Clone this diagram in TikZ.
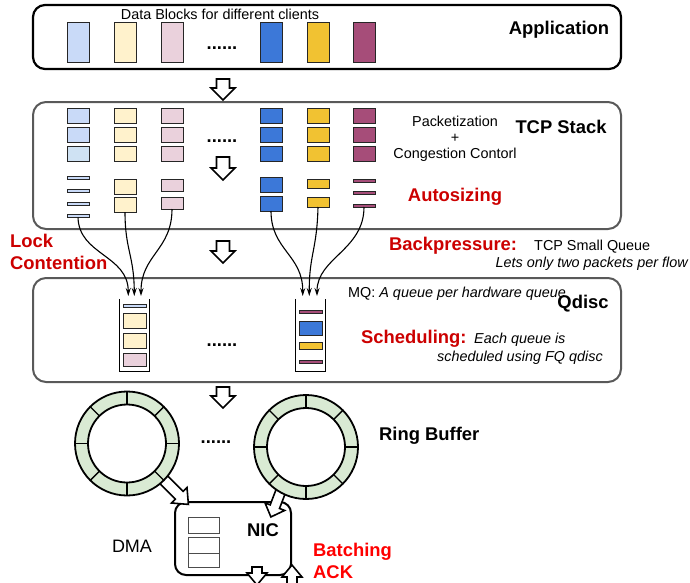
\documentclass[tikz,border=0pt]{standalone}
\usepackage{fontspec}
\setmainfont{Liberation Sans}
\usetikzlibrary{fit,arrows.meta}
\definecolor{lblue}{HTML}{C9DAF8}
\definecolor{lbluetwo}{HTML}{CFE2F3}
\definecolor{lyel}{HTML}{FFF2CC}
\definecolor{lpink}{HTML}{EAD1DC}
\definecolor{dblue}{HTML}{3C78D8}
\definecolor{dyel}{HTML}{F1C232}
\definecolor{dpurp}{HTML}{A64D79}
\definecolor{ringg}{HTML}{D9EAD3}
\definecolor{boxgray}{HTML}{595959}
\definecolor{lblred}{HTML}{CC0000}
\definecolor{lbrred}{HTML}{FF0000}
\tikzset{
 blk/.style={draw=black!85, line width=0.8pt, inner sep=0pt, outer sep=0pt},
 layer/.style={rounded corners=13pt, line width=2pt, draw=boxgray, inner sep=0pt},
 small/.style={font=\fontsize{14.4}{16}\selectfont, inner sep=0pt},
 smallit/.style={font=\fontsize{14.4}{16}\selectfont\itshape, inner sep=0pt},
 big/.style={font=\fontsize{18.4}{22}\selectfont\bfseries, inner sep=0pt},
 redlbl/.style={big, text=lblred},
 flow/.style={line width=1.1pt, -{Stealth[length=8pt,width=5pt]}},
 pics/barrow/.style n args={4}{code={
   \draw[fill=white, line width=1.6pt, line join=miter]
     (-#2,0) -- (#2,0) -- (#2,{#1-#4}) -- (#3,{#1-#4}) -- (0,#1)
     -- (-#3,{#1-#4}) -- (-#2,{#1-#4}) -- cycle;}},
}
\newcommand\blk[6]{\node[blk,fill=#2,fit={(#3,#4)(#5,#6)}] (#1) {};}
\begin{document}
\begin{tikzpicture}[x=1pt,y=-1pt]
\clip (0,0) rectangle (690,582);
% layers
\node[layer, draw=black, line width=2.2pt, rounded corners=12pt, fit={(33,5)(621,69)}] (app) {};
\node[layer, fit={(33,102)(621,229)}] (tcp) {};
\node[layer, fit={(33,278)(621,382)}] (qdisc) {};
% application blocks
\blk{a1}{lblue}{67}{22}{89}{62}
\blk{a2}{lyel}{114}{22}{136}{62}
\blk{a3}{lpink}{161}{22}{183}{62}
\blk{a4}{dblue}{260}{22}{282}{62}
\blk{a5}{dyel}{307}{22}{329}{62}
\blk{a6}{dpurp}{353}{22}{375}{62}
\node[small, anchor=base] (datatxt) at (220,19) {Data Blocks for different clients};
\node[big, anchor=base] (apptxt) at (559,34) {Application};
\node[big, anchor=base] (adots) at (222,49) {......};
% TCP blocks top rows
\blk{t11}{lblue}{67}{108}{89}{123}
\blk{t12}{lblue}{67}{127}{89}{142}
\blk{t13}{lbluetwo}{67}{146}{89}{161}
\blk{t21}{lyel}{114}{108}{136}{123}
\blk{t22}{lyel}{114}{127}{136}{142}
\blk{t23}{lyel}{114}{146}{136}{161}
\blk{t31}{lpink}{161}{108}{183}{123}
\blk{t32}{lpink}{161}{127}{183}{142}
\blk{t33}{lpink}{161}{146}{183}{161}
\blk{t41}{dblue}{260}{108}{282}{123}
\blk{t42}{dblue}{260}{127}{282}{142}
\blk{t43}{dblue}{260}{146}{282}{161}
\blk{t51}{dyel}{307}{108}{329}{123}
\blk{t52}{dyel}{307}{127}{329}{142}
\blk{t53}{dyel}{307}{146}{329}{161}
\blk{t61}{dpurp}{353}{108}{375}{123}
\blk{t62}{dpurp}{353}{127}{375}{142}
\blk{t63}{dpurp}{353}{146}{375}{161}
% TCP autosized
\blk{s11}{lblue}{67}{176.5}{89}{179.5}
\blk{s12}{lblue}{67}{189.5}{89}{192.5}
\blk{s13}{lblue}{67}{202}{89}{205}
\blk{s14}{lblue}{67}{214.5}{89}{217.5}
\blk{s21}{lyel}{114}{179}{136}{194}
\blk{s22}{lyel}{114}{197}{136}{212}
\blk{s31}{lpink}{161}{179}{183}{191}
\blk{s32}{lpink}{161}{197}{183}{209}
\blk{s41}{dblue}{260}{177}{282}{192}
\blk{s42}{dblue}{260}{196}{282}{211}
\blk{s51}{dyel}{307}{179}{329}{188}
\blk{s52}{dyel}{307}{197}{329}{207}
\blk{s61}{dpurp}{353}{179}{375}{182}
\blk{s62}{dpurp}{353}{191.5}{375}{194.5}
\blk{s63}{dpurp}{353}{204}{375}{207}
\node[big, anchor=base] (tdots) at (222,142) {......};
\node[small, anchor=base, align=center] (pktxt) at (455,158) {Packetization\\+\\Congestion Contorl};
\node[big, anchor=base] (tcptxt) at (561,133) {TCP Stack};
\node[redlbl, anchor=base] (autotxt) at (455,201) {Autosizing};
% queues
\node[fit={(120,299)(149,371)}, inner sep=0pt] (q1) {};
\node[fit={(296,299)(325,371)}, inner sep=0pt] (q2) {};
\draw[line width=1pt] (q1.north west) -- (q1.south west) -- (q1.south east) -- (q1.north east);
\draw[line width=1pt] (q2.north west) -- (q2.south west) -- (q2.south east) -- (q2.north east);
\blk{q11}{lblue}{123}{304}{146}{307}
\blk{q12}{lyel}{123}{313}{146}{328}
\blk{q13}{lyel}{123}{333}{146}{348}
\blk{q14}{lpink}{123}{353}{146}{366}
\blk{q21}{dpurp}{299}{310}{322}{313}
\blk{q22}{dblue}{299}{321}{322}{335}
\blk{q23}{dyel}{299}{342}{322}{349}
\blk{q24}{dpurp}{299}{360}{322}{363}
\coordinate (e11) at (128.3,296);
\coordinate (e12) at (134.3,296);
\coordinate (e13) at (141,296);
\coordinate (e21) at (302.7,296);
\coordinate (e22) at (309.3,296);
\coordinate (e23) at (317,296);
% flows
\draw[flow] (s14.south) .. controls (79,255) and (128,255) .. (e11);
\draw[flow] (s22.south) .. controls (125,250) and (134,255) .. (e12);
\draw[flow] (s32.south) .. controls (172,250) and (141,255) .. (e13);
\draw[flow] (s42.south) .. controls (271,250) and (303,255) .. (e21);
\draw[flow] (s52.south) .. controls (317,250) and (309,255) .. (e22);
\draw[flow] (s63.south) .. controls (364,250) and (317,258) .. (e23);
% texts around
\node[redlbl, anchor=base west, align=left] (locktxt) at (10,269) {Lock\\Contention};
\node[redlbl, anchor=base west] (bptxt) at (389,250) {Backpressure:};
\node[small, anchor=base west] (tsqtxt) at (534,250) {TCP Small Queue};
\node[smallit, anchor=base east] (letstxt) at (688,267) {Lets only two packets per flow};
\node[small, anchor=base west] (mqtxt) at (348,297) {MQ: \textit{A queue per hardware queue}};
\node[big, anchor=base] (qdtxt) at (583,308) {Qdisc};
\node[redlbl, anchor=base west] (schtxt) at (361,343.5) {Scheduling:};
\node[smallit, anchor=base west] (eachtxt) at (474,343.5) {Each queue is};
\node[smallit, anchor=base east] (fqtxt) at (603,361.5) {scheduled using FQ qdisc};
\node[big, anchor=base] (qdots) at (222,346) {......};
% layer arrows
\pic at (223,79) {barrow={21}{6.5}{12}{12}};
\pic at (223,157) {barrow={23}{6.5}{12}{12}};
\pic at (223,241) {barrow={22}{6.5}{12}{12}};
\pic at (223,387) {barrow={21}{6.5}{12}{12}};
% NIC
\node[draw=black, line width=2pt, rounded corners=11pt, inner sep=0pt, fit={(175,502)(291,575)}] (nic) {};
\node[blk, draw=black!70, fill=white, fit={(188,517)(219,533)}] (n1) {};
\node[blk, draw=black!70, fill=white, fit={(188,537)(219,553)}] (n2) {};
\node[blk, draw=black!70, fill=white, fit={(188,553)(219,567)}] (n3) {};
\node[big, anchor=base] (nictxt) at (263,536) {NIC};
\node[font=\fontsize{18}{22}\selectfont, inner sep=0pt, anchor=base] (dmatxt) at (132,552.7) {DMA};
\node[big, text=lbrred, anchor=base west, align=left] (battxt) at (313,578) {Batching\\ACK};
% arrows into NIC
\pic[rotate=45] at (158,474) {barrow={43}{5.5}{11}{13}};
\pic[rotate=-21] at (282,488) {barrow={31}{5}{10.5}{11}};
\pic at (257,567) {barrow={18}{5}{10}{12}};
\pic[rotate=180] at (292,592) {barrow={27}{5}{10}{12}};
% rings
\node[circle, minimum size=104pt, inner sep=0pt] (ring1) at (127,443.5) {};
\node[circle, minimum size=104pt, inner sep=0pt] (ring2) at (306,447) {};
\foreach \r in {ring1,ring2}{
  \fill[ringg, even odd rule] (\r.center) circle[radius=52pt] (\r.center) circle[radius=39pt];
  \draw[line width=1.8pt] (\r.center) circle[radius=52pt] (\r.center) circle[radius=39pt];
  \foreach \a in {0,45,...,315}
    \draw[line width=1.4pt] ([shift={(\a:39pt)}]\r.center) -- ([shift={(\a:52pt)}]\r.center);
}
\node[big, anchor=base] (rdots) at (216,443) {......};
\node[big, anchor=base west] (ringtxt) at (379,440) {Ring Buffer};
\end{tikzpicture}
\end{document}
